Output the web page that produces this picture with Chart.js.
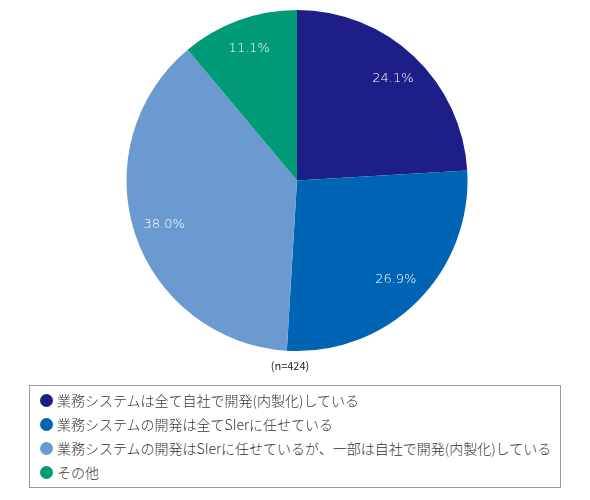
<!DOCTYPE html>
<html>
<head>
<meta charset="utf-8">
<script src="https://cdn.jsdelivr.net/npm/chart.js@4"></script>
<style>
    body { margin: 0; background: #fff; font-family: "Noto Sans CJK JP", sans-serif; }
    #wrap { position: relative; width: 590px; height: 500px; }
    #chart-box { position: absolute; left: 0; top: 0; width: 590px; height: 362px; }
    #note { position: absolute; left: 235px; width: 110px; top: 357px; text-align: center; font-size: 11px; color: #222; }
    #legend { position: absolute; left: 29px; top: 385px; width: 532px; height: 103px; border: 1px solid #9a9a9a; box-sizing: border-box; }
    .item { position: absolute; left: 10px; height: 20px; font-size: 14px; font-weight: 300; color: #333; line-height: 20px; white-space: nowrap; }
    .dot { display: inline-block; width: 13px; height: 13px; border-radius: 50%; vertical-align: -1px; margin-right: 4px; }
</style>
</head>
<body>
<div id="wrap">
    <div id="chart-box"><canvas id="pie"></canvas></div>
    <div id="note">(n=424)</div>
    <div id="legend"></div>
</div>
<script>
const labels = [
    "業務システムは全て自社で開発(内製化)している",
    "業務システムの開発は全てSIerに任せている",
    "業務システムの開発はSIerに任せているが、一部は自社で開発(内製化)している",
    "その他"
];
const values = [24.1, 26.9, 38.0, 11.1];

//slice colours
const pieColors = ["#1e1e88", "#0064b4", "#6b9ad0", "#009b76"];

//write percentages inside the slices
const sliceLabels = {
    id: "sliceLabels",
    afterDatasetsDraw(chart) {
        const ctx = chart.ctx;
        const meta = chart.getDatasetMeta(0);
        ctx.save();
        ctx.fillStyle = "#ffffff";
        ctx.font = '200 13px "DejaVu Sans"';
        ctx.textAlign = "center";
        ctx.textBaseline = "middle";
        meta.data.forEach((arc, i) => {
            const mid = (arc.startAngle + arc.endAngle) / 2;
            const r = arc.outerRadius * 0.82;
            const x = arc.x + Math.cos(mid) * r;
            const y = arc.y + Math.sin(mid) * r;
            ctx.fillText(values[i].toFixed(1) + "%", x, y);
        });
        ctx.restore();
    }
};

new Chart(document.getElementById("pie"), {
    type: "pie",
    plugins: [sliceLabels],
    data: {
        labels: labels,
        datasets: [{
            data: values,
            backgroundColor: pieColors,
            borderWidth: 0
        }]
    },
    options: {
        responsive: true,
        maintainAspectRatio: false,
        animation: false,
        layout: { padding: { left: 4, right: 0, top: 10, bottom: 11 } },
        plugins: {
            legend: { display: false },
            tooltip: { enabled: false }
        }
    }
});

//legend box below the pie
const legend = document.getElementById("legend");
labels.forEach((name, i) => {
    const row = document.createElement("div");
    row.className = "item";
    row.style.top = (4 + i * 24) + "px";
    row.innerHTML = '<span class="dot" style="background:' + pieColors[i] + '"></span>' + name;
    legend.appendChild(row);
});
</script>
</body>
</html>
